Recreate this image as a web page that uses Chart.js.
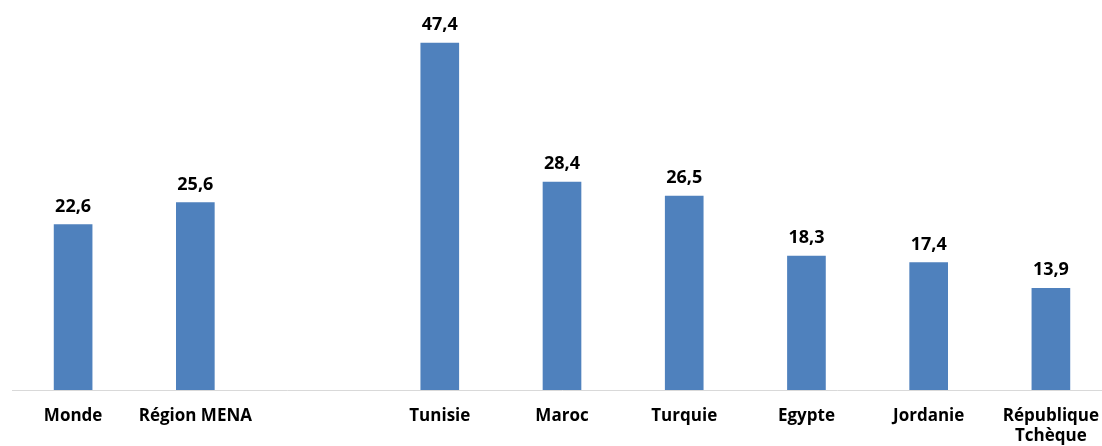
<!DOCTYPE html>
<html>
<head>
<meta charset="utf-8">
<script src="https://cdn.jsdelivr.net/npm/chart.js@4"></script>
<style>
    html, body { margin: 0; padding: 0; background: #fff; overflow: hidden; }
    #wrap { position: relative; width: 1125px; height: 446px; }
</style>
</head>
<body>
<div id="wrap"><canvas id="barChart"></canvas></div>
<script>
// Categories (empty slot between the regional averages and the countries)
const categories = ['Monde', 'Région MENA', '', 'Tunisie', 'Maroc', 'Turquie', 'Egypte', 'Jordanie', ['République', 'Tchèque']];
const values = [22.6, 25.6, null, 47.4, 28.4, 26.5, 18.3, 17.4, 13.9];

const fontFamily = '"Open Sans", Lato, sans-serif';

// Draw value labels above bars (comma decimal)
const valueLabels = {
    id: 'valueLabels',
    afterDatasetsDraw(chart) {
        const ctx = chart.ctx;
        const meta = chart.getDatasetMeta(0);
        ctx.save();
        ctx.font = 'bold 18px ' + fontFamily;
        ctx.fillStyle = '#000';
        ctx.textAlign = 'center';
        ctx.textBaseline = 'bottom';
        meta.data.forEach((bar, i) => {
            const v = values[i];
            if (v === null) return;
            ctx.fillText(v.toFixed(1).replace('.', ','), bar.x, bar.y - 9);
        });
        ctx.restore();
    }
};

const ctx = document.getElementById('barChart').getContext('2d');
const barChart = new Chart(ctx, {
    type: 'bar',
    data: {
        labels: categories,
        datasets: [{
            data: values,
            backgroundColor: '#4f81bd',
            barThickness: 38
        }]
    },
    options: {
        responsive: true,
        maintainAspectRatio: false,
        animation: false,
        layout: { padding: { left: 12, right: 13, top: 24, bottom: 0 } },
        plugins: {
            legend: { display: false },
            tooltip: { enabled: false }
        },
        scales: {
            x: {
                grid: { display: false, drawTicks: false },
                border: { display: true, color: '#d9d9d9', width: 1 },
                ticks: {
                    color: '#000',
                    font: { family: fontFamily, size: 17, weight: 'bold', lineHeight: 1.2 },
                    padding: 16,
                    maxRotation: 0,
                    autoSkip: false
                },
                afterFit(scale) { scale.height = 56; }
            },
            y: {
                display: false,
                min: 0,
                max: 50
            }
        }
    },
    plugins: [valueLabels]
});
</script>
</body>
</html>
